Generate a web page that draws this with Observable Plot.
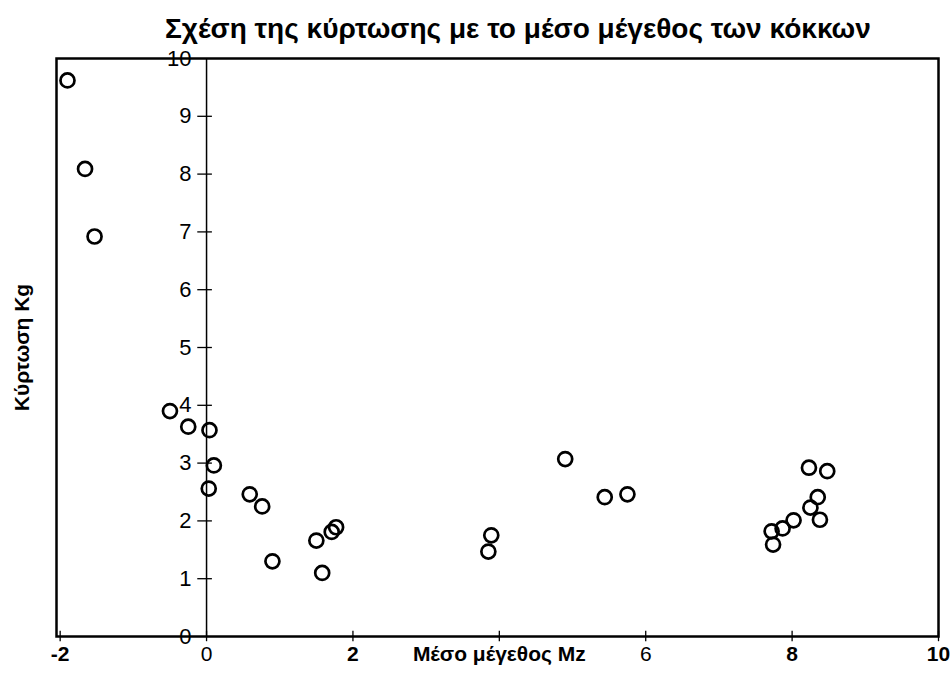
<!DOCTYPE html>
<html>
<head>
<meta charset="utf-8">
<script src="https://cdn.jsdelivr.net/npm/d3@7"></script>
<script src="https://cdn.jsdelivr.net/npm/@observablehq/plot@0.6"></script>
<style>
  html, body { margin: 0; padding: 0; background: #fff; }
  #title {
    box-sizing: border-box; width: 951px; height: 48px;
    padding-top: 15px; padding-left: 165px;
    font: bold 28px "Liberation Sans", Arial, sans-serif; line-height: 28px;
    color: #000; white-space: nowrap;
  }
  svg { display: block; }
</style>
</head>
<body>
<div id="title">Σχέση της κύρτωσης με το μέσο μέγεθος των κόκκων</div>
<div id="chart"></div>
<script>
// Mean grain size Mz (x) and kurtosis Kg (y)
const mz = [-1.90, -1.66, -1.53, -0.50, -0.25, 0.04, 0.10, 0.03, 0.59, 0.76, 0.90, 1.50, 1.71, 1.77, 1.58,
            3.89, 3.85, 4.90, 5.44, 5.75,
            8.23, 8.48, 8.35, 8.25, 8.38, 8.02, 7.87, 7.72, 7.74];
const kg = [9.62, 8.09, 6.92, 3.90, 3.63, 3.57, 2.96, 2.56, 2.46, 2.25, 1.30, 1.66, 1.81, 1.89, 1.10,
            1.75, 1.47, 3.07, 2.41, 2.46,
            2.92, 2.86, 2.41, 2.23, 2.02, 2.01, 1.87, 1.82, 1.59];
const xTicks = [-2, 0, 2, 4, 6, 8, 10];
const xTickLabels = ["-2", "0", "2", "Μέσο μέγεθος Mz", "6", "8", "10"];
const yTicks = [0, 1, 2, 3, 4, 5, 6, 7, 8, 9, 10];
const yLabel = "Κύρτωση Kg";

const points = mz.map((x, i) => ({x, y: kg[i]}));
const xLab = xTicks.map((t, i) => ({t, label: xTickLabels[i], italic: i === 1 || i === 3, bold: i !== 1 && i !== 4}));

const font = "Liberation Sans, Arial, sans-serif";
const chart = Plot.plot({
  width: 951,
  height: 630,
  marginLeft: 56,
  marginRight: 13,
  marginTop: 10,
  marginBottom: 42,
  style: {fontFamily: font, background: "transparent", overflow: "visible"},
  x: {domain: [-2.05, 10], axis: null},
  y: {domain: [0, 10], axis: null},
  marks: [
    Plot.frame({stroke: "#000", strokeWidth: 2.5}),
    Plot.ruleX([0], {y1: 0, y2: 10, stroke: "#000", strokeWidth: 1.5}),
    Plot.ruleY(yTicks.slice(1, 10), {y: d => d, x1: -0.12, x2: 0.08, stroke: "#000", strokeWidth: 1.3}),
    Plot.ruleX(xTicks, {x: d => d, y1: -0.09, y2: 0.09, stroke: "#000", strokeWidth: 1.3}),
    Plot.text(yTicks, {x: 0, y: d => d, text: d => String(d), dx: -15, textAnchor: "end",
      fontSize: 22, fill: "#000"}),
    Plot.text(xLab.filter(d => d.bold), {x: "t", frameAnchor: "bottom", dy: 24, text: "label", fontSize: 21,
      textAnchor: "middle", fontWeight: "bold", fill: "#000", fontStyle: d => d.italic ? "italic" : "normal"}),
    Plot.text(xLab.filter(d => !d.bold), {x: "t", frameAnchor: "bottom", dy: 24, text: "label", fontSize: 21,
      textAnchor: "middle", fill: "#000", fontStyle: d => d.italic ? "italic" : "normal"}),
    Plot.text([yLabel], {frameAnchor: "left", dx: -34, rotate: -90, text: d => d, textAnchor: "middle",
      fontSize: 21, fontWeight: "bold", fill: "#000"}),
    Plot.dot(points, {x: "x", y: "y", r: 7, stroke: "#000", strokeWidth: 2.7, fill: "none"})
  ]
});
document.getElementById("chart").appendChild(chart);
</script>
</body>
</html>
